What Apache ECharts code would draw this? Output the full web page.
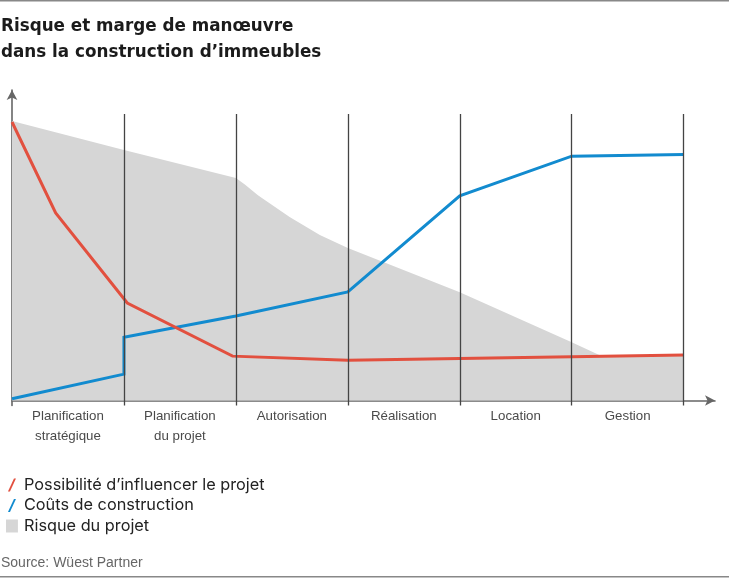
<!DOCTYPE html>
<html>
<head>
<meta charset="utf-8">
<script src="https://cdn.jsdelivr.net/npm/echarts@6/dist/echarts.min.js"></script>
<style>
html,body{margin:0;padding:0;background:#fff;}
#chart{width:729px;height:578px;}
</style>
</head>
<body>
<div id="chart"></div>
<script>
const titleText = 'Risque et marge de manœuvre\ndans la construction d’immeubles';
const sourceText = 'Source: Wüest Partner';
const categories = ['Planification\nstratégique', 'Planification\ndu projet', 'Autorisation', 'Réalisation', 'Location', 'Gestion'];
const seriesNames = ['Possibilité d’influencer le projet', 'Coûts de construction', 'Risque du projet'];
const separators = [1, 2, 3, 4, 5, 6];
const separatorTop = 92.3;
const yMin = -1.6;
const yMax = 100;
const xMax = 6.28;
// [phase position, level]
const influence = [[0, 89.7], [0.39, 60.4], [1.03, 31.4], [1.97, 14.3], [3, 13.0], [6, 14.7]];
const costs = [[0, 0.6], [1, 8.5], [1, 20.4], [2, 27.2], [3, 35.0], [4, 65.9], [5, 78.7], [6, 79.2]];
const risk = [[0, 90.0], [1, 80.7], [2, 71.7], [2.08, 69.6], [2.2, 66.0], [2.48, 59.1], [2.75, 53.3], [3, 49.1], [4, 34.9], [5, 18.8], [5.27, 14.3], [6, 14.7]];

const RED = '#e2503f';
const BLUE = '#128bcf';
const GRAY = '#d6d6d6';
const slashIcon = 'path://M6,0 L8,0 L2,13 L0,13 Z';
const squareIcon = 'path://M0,0 L11,0 L11,12 L0,12 Z';

const chart = echarts.init(document.getElementById('chart'), null, {renderer: 'canvas'});
chart.setOption({
  animation: false,
  backgroundColor: '#fff',
  title: [
    {
      text: titleText, left: 1, top: 14, padding: 0,
      textStyle: {fontFamily: 'DejaVu Sans', fontSize: 16.8, fontWeight: 'bold', color: '#1b1b1b', lineHeight: 26}
    },
    {
      text: sourceText, left: 1, top: 554, padding: 0,
      textStyle: {fontFamily: 'Liberation Sans', fontSize: 14, fontWeight: 'normal', color: '#666', lineHeight: 18}
    }
  ],
  legend: {
    orient: 'vertical', left: 1, top: 470,
    itemWidth: 14, itemHeight: 13, itemGap: 0.5,
    selectedMode: false,
    itemStyle: {borderWidth: 0},
    textStyle: {fontFamily: 'Inter', fontSize: 16.3, color: '#222', lineHeight: 20},
    data: [
      {name: seriesNames[0], icon: slashIcon},
      {name: seriesNames[1], icon: slashIcon},
      {name: seriesNames[2], icon: squareIcon}
    ]
  },
  grid: {left: 12, right: 14, top: 90, bottom: 172.5, outerBoundsMode: 'none'},
  xAxis: {
    type: 'value', min: 0, max: xMax, interval: 0.5,
    axisLine: {show: true, onZero: true, symbol: ['none', 'arrow'], symbolSize: [8, 10], lineStyle: {color: '#666', width: 1.6}},
    axisTick: {show: false},
    splitLine: {show: false},
    axisLabel: {
      show: true, margin: 1, interval: 0, hideOverlap: false,
      fontFamily: 'Liberation Sans', fontSize: 13.3, color: '#4a4a4a', lineHeight: 20,
      formatter: function (v) {
        const i = v - 0.5;
        if (Math.abs(i - Math.round(i)) < 1e-6 && i >= 0 && i < categories.length) return categories[Math.round(i)];
        return '';
      }
    }
  },
  yAxis: {
    type: 'value', min: yMin, max: yMax,
    axisLine: {show: true, onZero: false, symbol: ['none', 'arrow'], symbolSize: [8, 10], lineStyle: {color: '#666', width: 1.6}},
    axisTick: {show: false},
    axisLabel: {show: false},
    splitLine: {show: false}
  },
  series: [
    {
      name: seriesNames[2], type: 'line', data: risk, z: 1,
      color: GRAY, symbol: 'none', showSymbol: false,
      lineStyle: {width: 0, color: GRAY},
      areaStyle: {color: GRAY, opacity: 1},
      markLine: {
        silent: true, symbol: ['none', 'none'], label: {show: false},
        lineStyle: {color: '#444', width: 1.3, type: 'solid'},
        emphasis: {disabled: true},
        data: separators.map(s => [{coord: [s, yMin]}, {coord: [s, separatorTop]}])
      }
    },
    {
      name: seriesNames[1], type: 'line', data: costs, z: 3,
      color: BLUE, symbol: 'none', showSymbol: false,
      lineStyle: {width: 3, color: BLUE, join: 'miter'}
    },
    {
      name: seriesNames[0], type: 'line', data: influence, z: 4,
      color: RED, symbol: 'none', showSymbol: false,
      lineStyle: {width: 3, color: RED, join: 'miter'}
    }
  ],
  graphic: [
    {type: 'rect', left: 0, top: 0, shape: {width: 729, height: 1.5}, style: {fill: '#888'}, silent: true},
    {type: 'rect', left: 0, top: 576, shape: {width: 729, height: 1.5}, style: {fill: '#888'}, silent: true}
  ]
});
</script>
</body>
</html>
